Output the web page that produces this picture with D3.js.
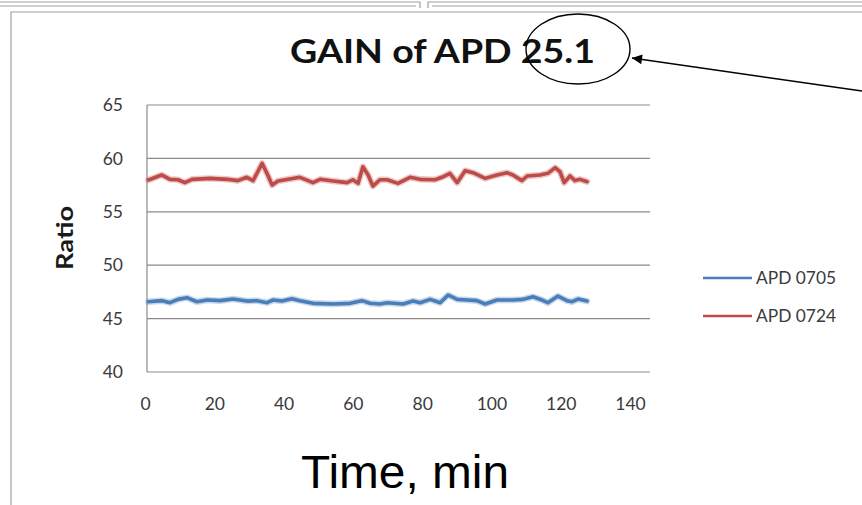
<!DOCTYPE html>
<html><head><meta charset="utf-8">
<script src="https://cdn.jsdelivr.net/npm/d3@7"></script>
<style>body{margin:0;background:#fff;} svg{display:block;}</style>
</head><body>
<svg id="c" width="862" height="505"></svg>
<script>
// ---- data ----
const titleText = "GAIN of APD 25.1";
const xTitle = "Time, min";
const yTitle = "Ratio";
const seriesNames = ["APD 0705", "APD 0724"];
const xTicks = [0, 20, 40, 60, 80, 100, 120, 140];
const yTicks = [40, 45, 50, 55, 60, 65];

const time0705 = [1, 4.9, 7.2, 9.5, 12.1, 15, 17.9, 21.7, 25.4, 29.4, 32.3, 35.2, 37, 39.5, 42.4, 44.7, 48.5, 54.3, 59.2, 62.6, 65, 67.8, 69.9, 74.5, 77.4, 79.4, 82.3, 85.2, 87.5, 90.1, 93, 95.8, 98.2, 101.6, 106.2, 109.1, 112, 114.6, 116.3, 119.2, 121.8, 123.3, 125, 127.6];
const apd0705 = [46.58, 46.68, 46.49, 46.8, 46.96, 46.58, 46.74, 46.68, 46.83, 46.64, 46.68, 46.49, 46.74, 46.64, 46.86, 46.68, 46.43, 46.37, 46.43, 46.68, 46.43, 46.37, 46.49, 46.37, 46.64, 46.49, 46.8, 46.49, 47.21, 46.8, 46.74, 46.68, 46.37, 46.74, 46.74, 46.8, 47.05, 46.74, 46.49, 47.11, 46.68, 46.58, 46.83, 46.64];

const time0724 = [1, 4.8, 7.2, 9.5, 11.5, 13.6, 18.8, 23.7, 26.8, 29.4, 31.2, 33.8, 35.2, 36.7, 38.4, 44.7, 48.5, 50.5, 54.3, 58.3, 60, 61.5, 62.9, 64.4, 65.8, 67.8, 69.9, 73, 76.5, 79.4, 83.7, 85.7, 88, 90.1, 92.4, 94.7, 98.2, 101.6, 104.5, 106.2, 108.8, 110.3, 114, 116.3, 118.4, 119.8, 121, 122.7, 124.1, 125.6, 127.6];
const apd0724 = [57.98, 58.45, 58.04, 58.0, 57.73, 58.04, 58.13, 58.04, 57.92, 58.23, 57.92, 59.54, 58.6, 57.5, 57.88, 58.23, 57.73, 58.04, 57.88, 57.73, 58.0, 57.66, 59.22, 58.45, 57.4, 58.0, 58.0, 57.66, 58.23, 58.04, 58.0, 58.23, 58.6, 57.73, 58.85, 58.66, 58.13, 58.45, 58.66, 58.45, 57.92, 58.35, 58.45, 58.6, 59.13, 58.75, 57.73, 58.35, 57.92, 58.04, 57.82];

const colors = ["#4A7EBB", "#BE4B48"];

// ---- drawing ----
const svg = d3.select("#c");
const plotLeft = 147, plotRight = 650, plotTop = 105, plotBottom = 372;
const uiFont = "Lato, 'Open Sans', sans-serif";

const x = d3.scaleLinear().domain([0, 140]).range([145, 630]);
const y = d3.scaleLinear().domain([40, 65]).range([plotBottom, plotTop]);

// page frame
const frame = svg.append("g").attr("fill", "none").attr("stroke", "#a0a0a0");
frame.append("path").attr("d", "M0,2H420V8M0,6H416M428,8V2H862M432,6H862").attr("stroke-width", 1.2);
frame.append("path").attr("d", "M11,505V12H862").attr("stroke-width", 1.2);

// gridlines
svg.append("g").selectAll("line").data(yTicks).join("line")
  .attr("x1", plotLeft).attr("x2", plotRight)
  .attr("y1", d => y(d)).attr("y2", d => y(d))
  .attr("stroke", "#8a8a8a").attr("stroke-width", 1.2);
svg.append("line").attr("x1", plotLeft).attr("x2", plotLeft)
  .attr("y1", plotTop).attr("y2", plotBottom)
  .attr("stroke", "#8a8a8a").attr("stroke-width", 1.2);

// y axis labels
const yAxis = d3.axisLeft(y).tickValues(yTicks).tickSize(0).tickPadding(0);
const gy = svg.append("g").attr("transform", "translate(123,0)").call(yAxis);
gy.select(".domain").remove();
gy.selectAll("text").attr("font-family", uiFont).attr("font-size", 17.5).attr("fill", "#3a3a3a");

// x axis labels
const xAxis = d3.axisBottom(x).tickValues(xTicks).tickSize(0).tickPadding(0);
const gx = svg.append("g").attr("transform", "translate(0,410)").call(xAxis);
gx.select(".domain").remove();
gx.selectAll("text").attr("font-family", uiFont).attr("font-size", 17.5).attr("fill", "#3a3a3a").attr("dy", "0");

// series lines
const line = d3.line().x(d => x(d[0])).y(d => y(d[1])).curve(d3.curveLinear);
const series = [
  d3.zip(time0705, apd0705),
  d3.zip(time0724, apd0724)
];
series.forEach((s, i) => {
  svg.append("path").datum(s).attr("d", line).attr("fill", "none")
    .attr("stroke", colors[i]).attr("stroke-opacity", 0.3).attr("stroke-width", 6.5)
    .attr("stroke-linejoin", "round").attr("stroke-linecap", "round");
  svg.append("path").datum(s).attr("d", line).attr("fill", "none")
    .attr("stroke", colors[i]).attr("stroke-width", 3.6)
    .attr("stroke-linejoin", "round").attr("stroke-linecap", "round");
});

// legend
const lg = svg.append("g");
seriesNames.forEach((n, i) => {
  const ly = 278 + i * 38;
  lg.append("line").attr("x1", 703).attr("x2", 752).attr("y1", ly).attr("y2", ly)
    .attr("stroke", colors[i]).attr("stroke-width", 2.4);
  lg.append("text").attr("x", 756).attr("y", ly + 6).text(n)
    .attr("font-family", uiFont).attr("font-size", 17).attr("fill", "#3a3a3a")
    .attr("textLength", 80).attr("lengthAdjust", "spacingAndGlyphs");
});

// title
svg.append("text").attr("x", 290).attr("y", 63)
  .attr("font-family", uiFont).attr("font-weight", "bold")
  .attr("font-size", 33).attr("fill", "#111")
  .attr("textLength", 305).attr("lengthAdjust", "spacingAndGlyphs").text(titleText);

// axis titles
svg.append("text").attr("transform", "translate(73,238) rotate(-90)").attr("text-anchor", "middle")
  .attr("font-family", uiFont).attr("font-weight", "bold")
  .attr("font-size", 23).attr("fill", "#1a1a1a")
  .attr("textLength", 64).attr("lengthAdjust", "spacingAndGlyphs").text(yTitle);
svg.append("text").attr("x", 405).attr("y", 488).attr("text-anchor", "middle")
  .attr("font-family", "'Liberation Sans', Arial, sans-serif")
  .attr("font-size", 47).attr("fill", "#000")
  .attr("textLength", 208).attr("lengthAdjust", "spacingAndGlyphs").text(xTitle);

// annotation ellipse and arrow
svg.append("defs").append("marker").attr("id", "ah").attr("viewBox", "0 0 10 10")
  .attr("refX", 10).attr("refY", 5).attr("markerWidth", 15).attr("markerHeight", 10)
  .attr("markerUnits", "userSpaceOnUse").attr("orient", "auto")
  .append("path").attr("d", "M0,0L10,5L0,10Z").attr("fill", "#000");
svg.append("ellipse").attr("cx", 578).attr("cy", 49).attr("rx", 52).attr("ry", 35)
  .attr("fill", "none").attr("stroke", "#000").attr("stroke-width", 1.4);
svg.append("line").attr("x1", 862).attr("y1", 91).attr("x2", 632).attr("y2", 58)
  .attr("stroke", "#000").attr("stroke-width", 1.5).attr("marker-end", "url(#ah)");
</script>
</body></html>
